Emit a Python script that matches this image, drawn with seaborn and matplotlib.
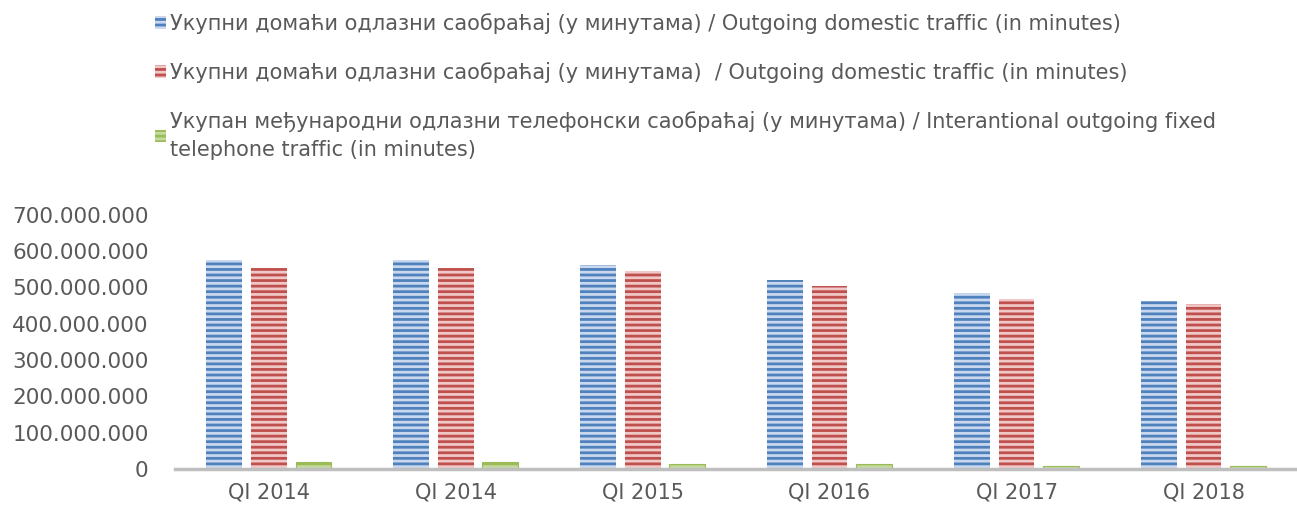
import pandas as pd
import matplotlib.pyplot as plt
import matplotlib.patches as mpatches
import seaborn as sns

# ==============================
# 1. Data
# ==============================
quarters = ["QI 2014", "QI 2014 ", "QI 2015", "QI 2016", "QI 2017", "QI 2018"]
tick_labels = ["QI 2014", "QI 2014", "QI 2015", "QI 2016", "QI 2017", "QI 2018"]

domestic_a = [576e6, 576e6, 562e6, 520e6, 485e6, 463e6]
domestic_b = [553e6, 553e6, 545e6, 504e6, 468e6, 454e6]
international = [19e6, 19e6, 14e6, 14e6, 8e6, 8e6]

series_names = [
    "Укупни домаћи одлазни саобраћај (у минутама) / Outgoing domestic traffic (in minutes)",
    "Укупни домаћи одлазни саобраћај (у минутама)  / Outgoing domestic traffic (in minutes)",
    "Укупан међународни одлазни телефонски саобраћај (у минутама) / Interantional outgoing fixed\ntelephone traffic (in minutes)",
]

df = pd.DataFrame({
    "quarter": quarters * 3,
    "series": [series_names[0]] * 6 + [series_names[1]] * 6 + [series_names[2]] * 6,
    "value": domestic_a + domestic_b + international,
})

dark = ["#4F81BD", "#C0504D", "#9BBB59"]
light = ["#C9D8EE", "#F0C8C7", "#C5DA9F"]

# ==============================
# 2. Plot
# ==============================
sns.set_style("white")
plt.rcParams["font.family"] = ["DejaVu Sans"]
plt.rcParams["hatch.linewidth"] = 2.0

fig = plt.figure(figsize=(12.97, 5.08), dpi=100)
ax = fig.add_axes([0.135, 0.077, 0.865, 0.5])

sns.barplot(data=df, x="quarter", y="value", hue="series", hue_order=series_names,
            palette=light, width=0.72, gap=0.2, legend=False, ax=ax)

# horizontal stripes like the original bars
for i, container in enumerate(ax.containers):
    for bar in container:
        bar.set_facecolor(light[i])
        bar.set_edgecolor(dark[i])
        bar.set_hatch("---")
        bar.set_linewidth(0.8 if i == 2 else 0)

ax.set_ylim(0, 700e6)
ax.set_xlim(-0.5, 5.5)
ax.set_yticks([i * 100e6 for i in range(8)])
ax.set_yticklabels(["0"] + [f"{i}00.000.000" for i in range(1, 8)])
ax.set_xticks(range(6))
ax.set_xticklabels(tick_labels)
ax.tick_params(axis="both", labelsize=15, colors="#595959", length=0)
ax.tick_params(axis="y", labelsize=15.5, pad=19)
ax.tick_params(axis="x", pad=10)
ax.set_xlabel("")
ax.set_ylabel("")
for s in ["top", "right", "left"]:
    ax.spines[s].set_visible(False)
ax.spines["bottom"].set_color("#BFBFBF")
ax.spines["bottom"].set_linewidth(2.5)

handles = [mpatches.Patch(facecolor=light[i], edgecolor=dark[i], hatch="---", linewidth=0)
           for i in range(3)]
leg = fig.legend(handles, series_names, loc="upper left", bbox_to_anchor=(0.105, 1.012),
                 frameon=False, fontsize=15, labelcolor="#595959",
                 handlelength=0.55, handleheight=0.55, handletextpad=0.15, labelspacing=1.35)
for t in leg.get_texts():
    t.set_linespacing(1.45)

fig.savefig("out.png", dpi=100)
